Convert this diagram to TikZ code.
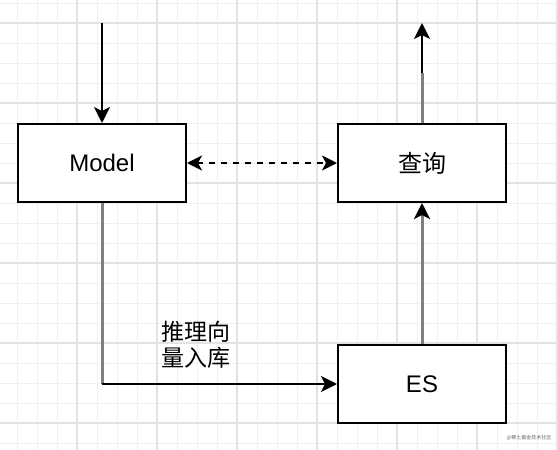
\documentclass[tikz,border=0pt]{standalone}
\usepackage{fontspec}
\setmainfont{Liberation Sans}
\newfontfamily\cjk{Noto Sans CJK SC}
\usetikzlibrary{arrows.meta}
\tikzset{
    block/.style={draw, line width=2pt, fill=white, minimum width=168pt, minimum height=78pt, inner sep=0pt, font=\fontsize{24}{28}\selectfont},
    tip/.style={-{Stealth[length=16pt,width=16pt,inset=4pt,color=black]}},
    link/.style={line width=2pt, tip},
}

\begin{document}
\begin{tikzpicture}[x=1pt,y=-1pt]
    \useasboundingbox[fill=white] (0,0) rectangle (558,450);
    % grid
    \draw[black!6, line width=1pt] \foreach \x in {17,37,...,557}{(\x,0)--(\x,450)};
    \draw[black!6, line width=1pt] \foreach \y in {3,23,...,443}{(0,\y)--(558,\y)};
    \draw[black!11, line width=1.2pt] \foreach \x in {77,157,...,557}{(\x,0)--(\x,450)};
    \draw[black!11, line width=1.2pt] \foreach \y in {23,103,...,423}{(0,\y)--(558,\y)};

    \node[block] (model) at (102,163) {Model};
    \node[block] (query) at (422,163) {\cjk 查询};
    \node[block] (es) at (422,384) {ES};
    \coordinate (in) at (102,23);
    \coordinate (out) at (422,23);
    \coordinate (mid) at (422,73);
    \coordinate (bend) at (model.south |- es.west);

    \draw[link] (in) -- (model);
    \draw[line width=2pt, dash pattern=on 6pt off 6pt, {Stealth[length=15pt,width=15pt,inset=4pt]}-{Stealth[length=15pt,width=15pt,inset=4pt]}] (model) -- (query);
    \draw[line width=3pt, black!50] (model) -- (bend);
    \draw[link] (bend) -- (es);
    \draw[link, line width=3pt, draw=black!50] (es) -- (query);
    \draw[line width=3pt, black!50] (query) -- (mid);
    \draw[link] (mid) -- (out);

    \node[font=\cjk\fontsize{23}{26}\selectfont, align=left, inner sep=0pt] (lbl) at (196,345) {推理向\\量入库};
    \node[font=\cjk\fontsize{5}{6}\selectfont, text=black!60] (mark) at (529,438) {@稀土掘金技术社区};
\end{tikzpicture}
\end{document}
